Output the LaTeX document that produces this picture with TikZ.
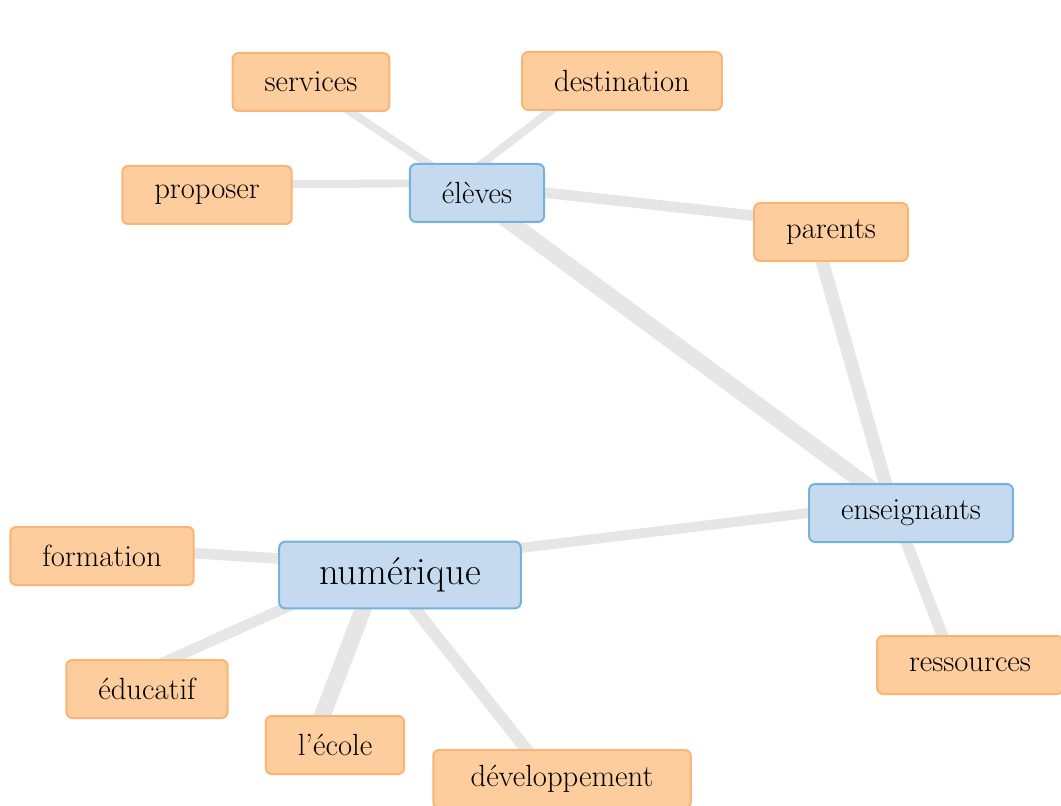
\documentclass[tikz,border=0pt]{standalone}
\usepackage{fontspec}
\usetikzlibrary{backgrounds}
\definecolor{wordfill}{RGB}{253,205,157}
\definecolor{wordline}{RGB}{250,180,118}
\definecolor{hubfill}{RGB}{197,218,239}
\definecolor{hubline}{RGB}{118,177,220}
\definecolor{tiegray}{RGB}{230,230,230}
\begin{document}
\begin{tikzpicture}[x=0.75pt,y=-0.75pt,
  word/.style={draw=wordline,fill=wordfill,line width=1.5pt,rounded corners=4.5pt,
    inner xsep=24pt,minimum height=43.5pt,font=\fontsize{23}{27}\selectfont},
  hub/.style={word,draw=hubline,fill=hubfill},
  tie/.style={draw=tiegray,line width=#1}]
\useasboundingbox (0,0) rectangle (1061,806);
% main terms
\node[hub] (eleves) at (477,193) {élèves};
\node[hub] (enseignants) at (911,513) {enseignants};
\node[hub,minimum height=50pt,inner xsep=30pt,font=\fontsize{29}{33}\selectfont] (numerique) at (400,575) {numérique};
% other terms
\node[word] (services) at (311,82) {services};
\node[word] (destination) at (622,81) {destination};
\node[word] (proposer) at (207,195) {proposer};
\node[word] (parents) at (831,232) {parents};
\node[word] (ressources) at (970,665) {ressources};
\node[word] (formation) at (102,556) {formation};
\node[word] (educatif) at (147,689) {éducatif};
\node[word] (ecole) at (335,745) {l’école};
\node[word,inner xsep=28pt] (developpement) at (562,779) {développement};
% links, under the boxes
\begin{scope}[on background layer]
\foreach \a/\b/\w in {eleves/services/6pt, eleves/destination/6pt, eleves/proposer/6pt,
    eleves/parents/8pt, eleves/enseignants/12pt, parents/enseignants/10pt,
    enseignants/ressources/8.5pt, enseignants/numerique/7.5pt, numerique/formation/8pt,
    numerique/educatif/8pt, numerique/ecole/12.5pt, numerique/developpement/9pt}
  \draw[tie=\w] ([shift={(-20,-10)}]\a.center) -- ([shift={(-20,-10)}]\b.center);
\end{scope}
\end{tikzpicture}
\end{document}
